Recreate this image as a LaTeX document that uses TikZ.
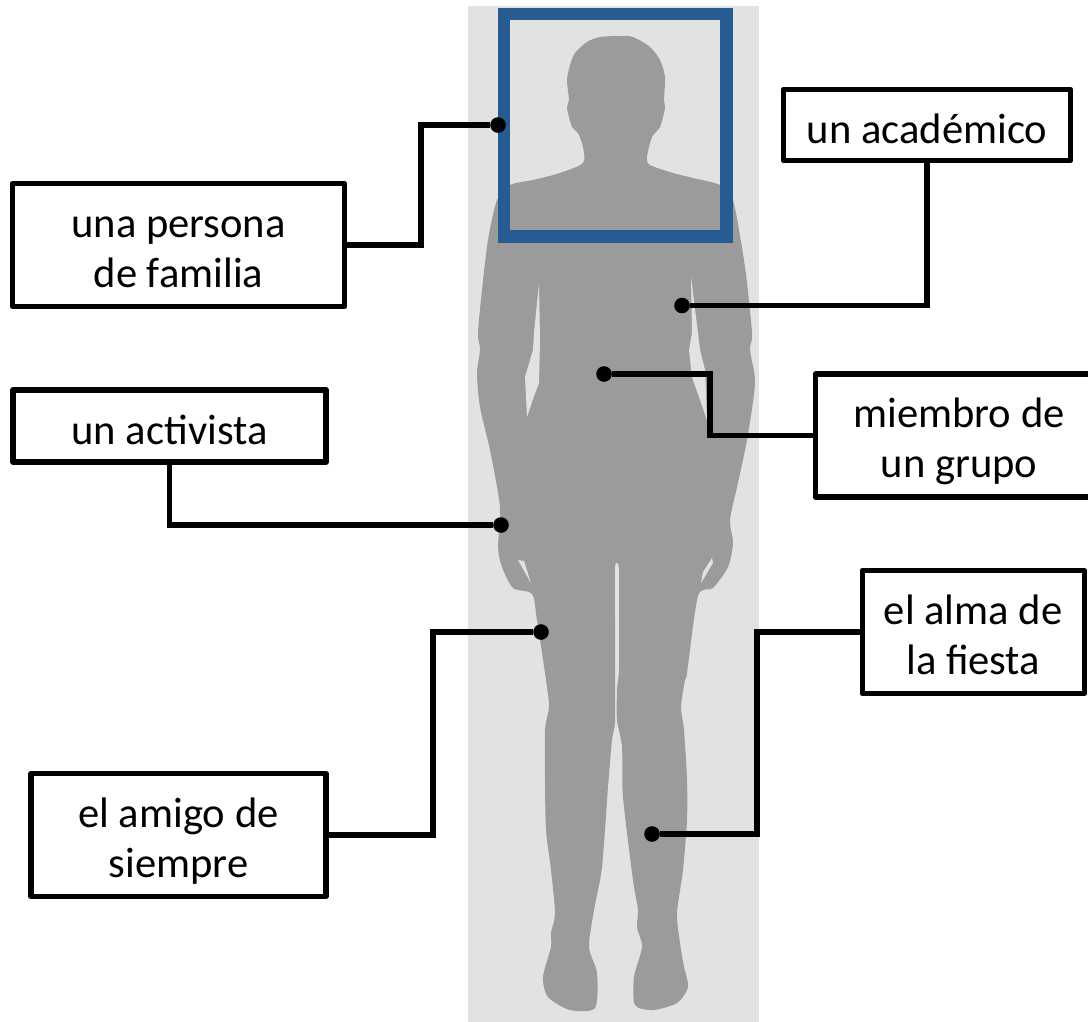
\documentclass[tikz,border=0pt]{standalone}
\usepackage{fontspec}
\setmainfont{Carlito}
\usepackage{xcolor}
\usepackage{tikz}
\usetikzlibrary{positioning,shapes,arrows}
\definecolor{panelgray}{HTML}{E2E2E2}
\definecolor{bodygray}{HTML}{9B9B9B}
\definecolor{framblue}{HTML}{265C92}
\tikzset{
    labelbox/.style={draw=black, rectangle, fill=white, line width=3.8pt, line join=round, outer sep=0pt, inner sep=0pt, align=center, font=\fontsize{30.3}{35.6}\selectfont},
    onelinebox/.style={labelbox, text height=26pt, text depth=0pt},
    twolinebox/.style={labelbox, minimum height=3.07cm, text height=60pt, text depth=0pt},
    pindot/.style={circle, fill=black, inner sep=0pt, minimum size=0.39cm},
    pinline/.style={line width=3.6pt, line join=miter}
}

\begin{document}
\begin{tikzpicture}[x=0.025cm, y=-0.025cm]
            \useasboundingbox (0,0) rectangle (1088,1022);
            \fill[panelgray] (468,6) rectangle (759,1022);
            \fill[bodygray] plot[smooth cycle, tension=0.45] coordinates {
                (620,36) (600,37) (587,42) (575,53) (570,65) (567,80) (569,100) (567,108) (572,127) (578,133) (583,147) (583,163)
                (560,173) (533,180) (510,185) (497,200) (488,240) (482,290) (478,333) (480,350) (477,373) (480,407) (490,450)
                (500,507) (498,547) (502,567) (513,588) (532,594) (537,620) (545,673) (547,687) (549,707) (545,730) (545,780)
                (546,830) (551,870) (555,913) (551,933) (551,947) (543,977) (548,997) (570,1010) (595,1008) (597,973) (589,947)
                (594,910) (602,867) (608,787) (612,740) (615,723) (615,687) (615,620) (615,567) (619,568) (619,620) (619,670) (617,690) (617,720) (622,747)
                (623,797) (633,880) (638,910) (637,927) (642,947) (634,977) (635,1005) (653,1010) (677,1003) (688,987) (684,967)
                (680,943) (677,913) (683,870) (687,820) (687,780) (684,730) (681,707) (685,680) (687,673) (698,596) (713,588)
                (728,567) (733,543) (730,520) (737,487) (747,440) (755,383) (750,350) (752,333) (745,267) (733,200) (720,185)
                (693,178) (673,173) (650,165) (647,157) (652,137) (660,127) (665,108) (664,100) (665,77) (660,60) (650,47) (633,37)};
            \fill[panelgray] (539,283) -- (534,333) -- (533,350) -- (525,377) -- (527,417) -- (532,402) -- (539,383) -- (540,340) -- cycle;
            \fill[panelgray] (691,277) -- (692,333) -- (689,350) -- (692,377) -- (707,420) -- (705,370) -- (700,350) -- (698,333) -- cycle;
            \fill[panelgray] (518,560) -- (524,561) -- (531,583) -- cycle;
            \fill[panelgray] (712,558) -- (713,563) -- (701,583) -- (703,572) -- cycle;
            \draw[framblue, line width=9pt] (504,14) rectangle (726.5,236.5);

            \node[twolinebox, minimum width=8.3cm] (persona) at (178.5,245) {una persona\\de familia};
            \node[onelinebox, minimum width=7.175cm, minimum height=1.775cm] (academico) at (927,125) {un académico};
            \node[twolinebox, minimum width=7.185cm] (miembro) at (959,435.5) {miembro de\\un grupo};
            \node[onelinebox, minimum width=7.825cm, minimum height=1.8cm] (activista) at (169.5,426) {un activista};
            \node[twolinebox, minimum width=5.55cm] (alma) at (973.2,632) {el alma de\\la fiesta};
            \node[twolinebox, minimum width=7.375cm] (amigo) at (178.5,835) {el amigo de\\siempre};

            \node[pindot] (dotpersona) at (498,125) {};
            \node[pindot] (dotacademico) at (682,305.5) {};
            \node[pindot] (dotmiembro) at (604,374) {};
            \node[pindot] (dotactivista) at (501,525) {};
            \node[pindot] (dotalma) at (652,834) {};
            \node[pindot] (dotamigo) at (541,632) {};

            \coordinate (bendpersona) at (421,245);
            \coordinate (bendmiembro) at (710,435.5);
            \coordinate (bendalma) at (757,632);
            \coordinate (bendamigo) at (433,835);

            \draw[pinline] (persona.east) -- (bendpersona) |- (dotpersona);
            \draw[pinline] (academico.south) |- (dotacademico);
            \draw[pinline] (miembro.west) -- (bendmiembro) |- (dotmiembro);
            \draw[pinline] (activista.south) |- (dotactivista);
            \draw[pinline] (alma.west) -- (bendalma) |- (dotalma);
            \draw[pinline] (amigo.east) -- (bendamigo) |- (dotamigo);
        \end{tikzpicture}
\end{document}
